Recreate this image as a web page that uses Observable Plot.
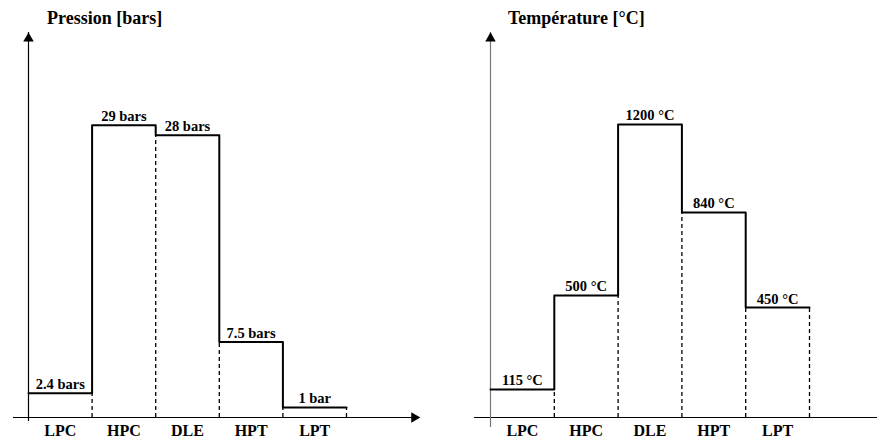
<!DOCTYPE html>
<html>
<head>
<meta charset="utf-8">
<script src="https://cdn.jsdelivr.net/npm/d3@7"></script>
<script src="https://cdn.jsdelivr.net/npm/@observablehq/plot@0.6"></script>
<style>
  body { margin: 0; background: #fff; }
  #wrap { display: flex; width: 877px; height: 441px; overflow: hidden; }
  .panel { position: relative; }
  .title { height: 28px; box-sizing: border-box; padding-top: 8px; line-height: 20px;
           font: bold 18px "Liberation Serif", "Times New Roman", serif; color: #000; white-space: nowrap; }
  svg { overflow: visible; }
</style>
</head>
<body>
<div id="wrap"></div>
<script>
const stages = ["LPC", "HPC", "DLE", "HPT", "LPT"];
const pressure = [2.4, 29, 28, 7.5, 1];
const pressureLabels = ["2.4 bars", "29 bars", "28 bars", "7.5 bars", "1 bar"];
const temperature = [115, 500, 1200, 840, 450];
const temperatureLabels = ["115 °C", "500 °C", "1200 °C", "840 °C", "450 °C"];

const FONT = "Liberation Serif, Times New Roman, serif";

function panel({values, labels, title, width, titlePad, xDomain, yTop, axisColor,
                xAxisStart, xAxisEnd, yAxisBottom, yArrow, xArrow}) {
  const n = values.length;
  const pts = values.map((v, i) => ({x: i, y: v})).concat({x: n, y: values[n - 1]});
  const bounds = d3.range(1, n + 1).map(i => ({x: i, y: i < n ? Math.min(values[i - 1], values[i]) : values[n - 1]}));
  const lab = values.map((v, i) => ({x: i + 0.5, y: v, t: labels[i]}));
  const marks = [
    Plot.ruleY([0], {x1: xAxisStart, x2: xAxisEnd, stroke: "#000", strokeWidth: 1.2}),
    Plot.ruleX([0], {y1: yAxisBottom, y2: yArrow, stroke: axisColor, strokeWidth: 1.2}),
    Plot.dot([{x: 0, y: yArrow}], {x: "x", y: "y", symbol: "triangle", r: 3.9, fill: "#000", stroke: null, dy: 6}),
    Plot.ruleX(bounds, {x: "x", y1: 0, y2: "y", stroke: "#000", strokeWidth: 1.3, strokeDasharray: "4,3"}),
    Plot.line(pts, {x: "x", y: "y", curve: "step-after", stroke: "#000", strokeWidth: 2}),
    Plot.text(lab, {x: "x", y: "y", text: "t", lineAnchor: "bottom", dy: -4, fontSize: 14.5, fontWeight: "bold", fontFamily: FONT, fill: "#000"}),
    Plot.text(stages, {x: (d, i) => i + 0.5, y: () => 0, text: d => d, lineAnchor: "top", dy: 7, fontSize: 16, fontWeight: "bold", fontFamily: FONT, fill: "#000"})
  ];
  if (xArrow != null) {
    marks.push(Plot.dot([{x: xArrow, y: 0}], {x: "x", y: "y", symbol: "triangle", rotate: 90, r: 3.9, fill: "#000", stroke: null, dx: -6}));
  }
  const svg = Plot.plot({
    width, height: 413,
    marginTop: 0, marginBottom: 24, marginLeft: 0, marginRight: 0,
    x: {domain: xDomain, axis: null},
    y: {domain: [0, yTop], axis: null},
    marks
  });
  const div = document.createElement("div");
  div.className = "panel";
  div.style.width = width + "px";
  const t = document.createElement("div");
  t.className = "title";
  t.style.paddingLeft = titlePad + "px";
  t.textContent = title;
  div.appendChild(t);
  div.appendChild(svg);
  return div;
}

const wrap = document.getElementById("wrap");
wrap.appendChild(panel({
  values: pressure, labels: pressureLabels, title: "Pression [bars]", width: 439, titlePad: 47,
  xDomain: [-28 / 63.6, 411 / 63.6], yTop: 38.6, axisColor: "#000",
  xAxisStart: -0.236, xAxisEnd: 6.1, yAxisBottom: -0.4, yArrow: 38.2, xArrow: 6.16
}));
wrap.appendChild(panel({
  values: temperature, labels: temperatureLabels, title: "Température [°C]", width: 438, titlePad: 69,
  xDomain: [-51 / 63.8, 387 / 63.8], yTop: 1593, axisColor: "#777",
  xAxisStart: -0.25, xAxisEnd: 6.2, yAxisBottom: -41, yArrow: 1577, xArrow: null
}));
</script>
</body>
</html>
